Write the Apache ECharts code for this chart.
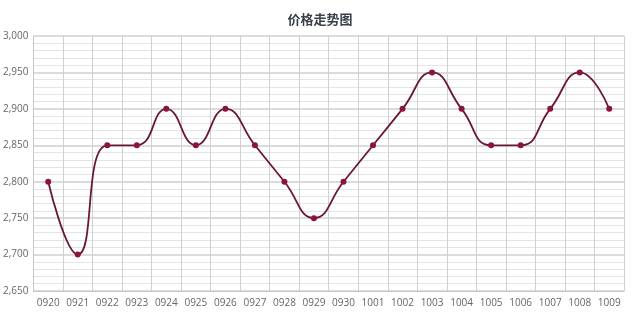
<!DOCTYPE html>
<html><head><meta charset="utf-8">
<script src="https://cdn.jsdelivr.net/npm/echarts@6/dist/echarts.min.js"></script>
<style>html,body{margin:0;padding:0;background:#fff}#c{width:640px;height:320px}</style>
</head><body><div id="c"></div>
<script>
const title = '价格走势图';
const categories = ['0920','0921','0922','0923','0924','0925','0926','0927','0928','0929','0930','1001','1002','1003','1004','1005','1006','1007','1008','1009'];
const prices = [2800,2700,2850,2850,2900,2850,2900,2850,2800,2750,2800,2850,2900,2950,2900,2850,2850,2900,2950,2900];
const yMin = 2650, yMax = 3000, yStep = 50;

const chart = echarts.init(document.getElementById('c'));
chart.setOption({
  animation: false,
  title: {text: title, left: 'center', top: 8, textStyle: {fontSize: 13, fontWeight: 'bold', color: '#3a3f4a', fontFamily: 'Noto Sans CJK SC'}},
  grid: {left: 33, right: 16, top: 36, bottom: 29},
  xAxis: {
    type: 'category', data: categories, boundaryGap: true,
    axisLine: {show: true, lineStyle: {color: '#c8c8c8'}},
    axisTick: {show: false},
    axisLabel: {color: '#666', fontSize: 10, margin: 7, interval: 0, fontFamily: 'Open Sans'},
    splitLine: {show: true, interval: 0, lineStyle: {color: '#d0d0d0'}}
  },
  yAxis: {
    type: 'value', min: yMin, max: yMax, interval: yStep,
    axisLine: {show: true, lineStyle: {color: '#c8c8c8'}},
    axisTick: {show: false},
    axisLabel: {color: '#666', fontSize: 10, margin: 5, fontFamily: 'Open Sans',
      formatter: v => v.toLocaleString('en-US')},
    splitLine: {show: true, lineStyle: {color: '#cfcfcf', width: 1.5}},
    minorTick: {show: false, splitNumber: 5},
    minorSplitLine: {show: true, lineStyle: {color: '#e4e4e4'}}
  },
  series: [{
    type: 'line', data: prices, smooth: 0.5,
    symbol: 'circle', symbolSize: 6,
    lineStyle: {color: '#6a1832', width: 1.8},
    itemStyle: {color: '#8a1538'}
  }]
});
</script></body></html>
